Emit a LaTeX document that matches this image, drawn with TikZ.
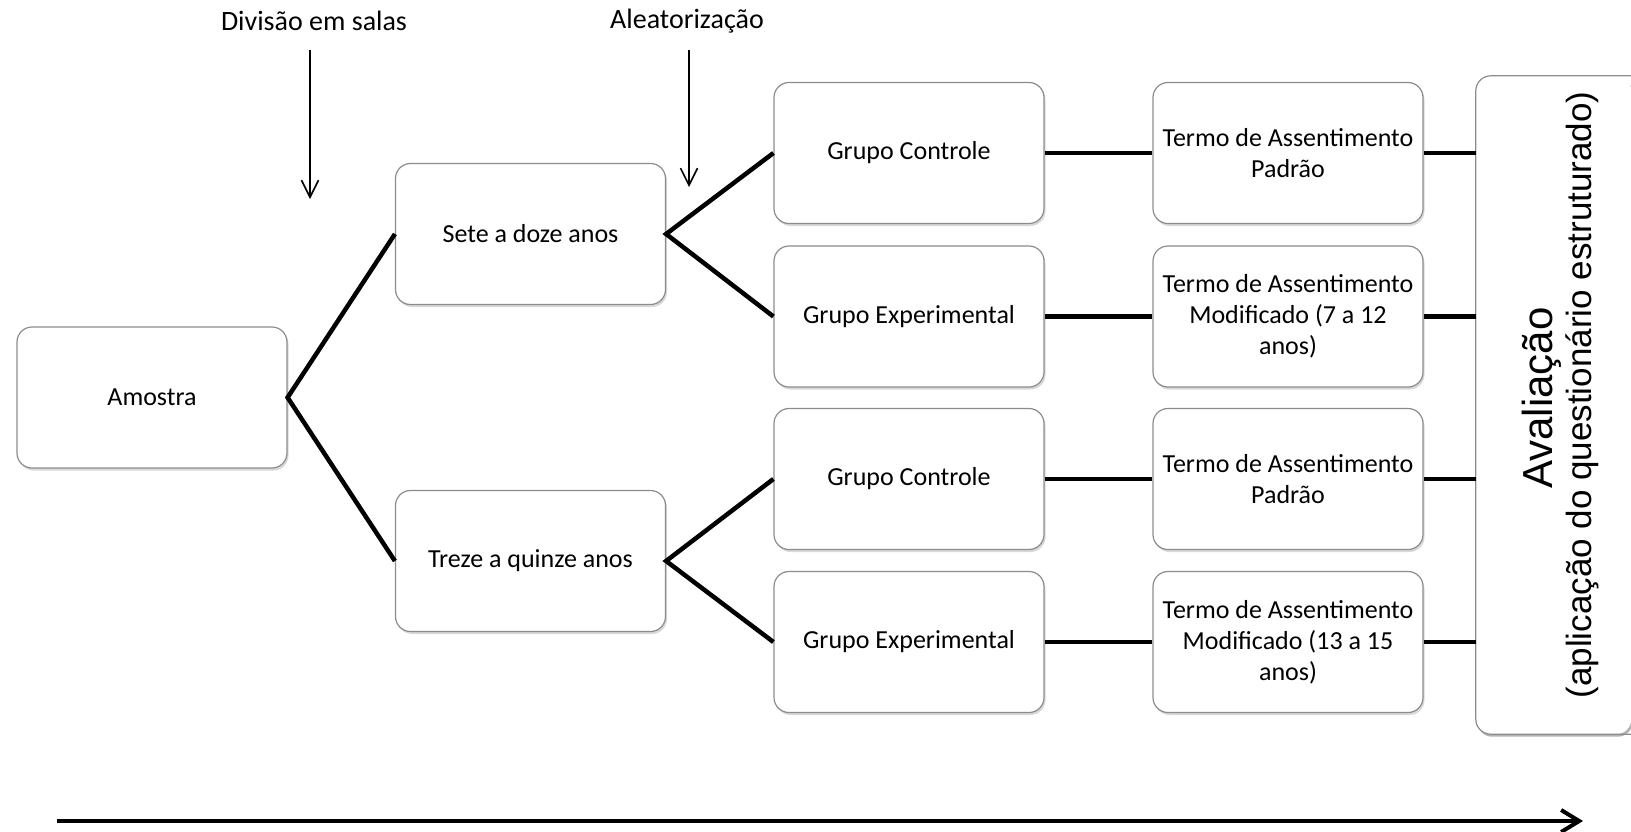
\documentclass[tikz,border=0pt]{standalone}
\usepackage{fontspec}
\setmainfont{Carlito}
\newfontfamily\arialfont{Liberation Sans}
\usetikzlibrary{arrows.meta,shadows}
\begin{document}
\begin{tikzpicture}[x=1pt,y=-1pt,
  box/.style={draw=black!45, line width=1.2pt, rounded corners=15pt, fill=white,
    minimum width=270pt, minimum height=141pt, inner sep=0pt, align=center,
    font=\fontsize{26}{31}\selectfont,
    drop shadow={shadow xshift=1.5pt, shadow yshift=-2.5pt, fill=black!30}},
  link/.style={line width=4.5pt},
  thinarrow/.style={line width=1.6pt, -{Straight Barb[length=17pt,width=17pt]}},
  bigarrow/.style={line width=4pt, -{Straight Barb[length=18pt,width=22pt]}},
  toplabel/.style={font=\fontsize{28}{32}\selectfont, inner sep=0pt},
  border/.style={draw=black!45, line width=1.2pt, rounded corners=15pt}
]
\useasboundingbox (0,0) rectangle (1631,831);

% top labels and arrows
\node[toplabel] (lblA) at (314,21) {Divisão em salas};
\node[toplabel] (lblB) at (687,21) {Aleatorização};
\coordinate (a1s) at (310,50);
\coordinate (a1e) at (310,199);
\coordinate (a2s) at (689,50);
\coordinate (a2e) at (689,187);
\draw[thinarrow] (a1s) -- (a1e);
\draw[thinarrow] (a2s) -- (a2e);

% boxes
\node[box] (amostra) at (152,397.5) {Amostra};
\node[box] (sete) at (530.5,234) {Sete a doze anos};
\node[box] (treze) at (530.5,561) {Treze a quinze anos};
\node[box] (gc1) at (909,153) {Grupo Controle};
\node[box] (ge1) at (909,316.5) {Grupo Experimental};
\node[box] (gc2) at (909,479) {Grupo Controle};
\node[box] (ge2) at (909,642) {Grupo Experimental};
\node[box] (t1) at (1288,153) {Termo de Assentimento\\Padrão};
\node[box] (t2) at (1288,316.5) {Termo de Assentimento\\Modificado (7 a 12\\anos)};
\node[box] (t3) at (1288,479) {Termo de Assentimento\\Padrão};
\node[box] (t4) at (1288,642) {Termo de Assentimento\\Modificado (13 a 15\\anos)};

% evaluation box (runs off the right edge)
\node[minimum width=155pt, minimum height=658pt, inner sep=0pt] (aval) at (1553.5,405) {};
\fill[black!30, rounded corners=15pt]
  ([xshift=1.5pt,yshift=-2.5pt]aval.north east) -- ([xshift=1.5pt,yshift=-2.5pt]aval.north west)
  -- ([xshift=1.5pt,yshift=-2.5pt]aval.south west) -- ([xshift=1.5pt,yshift=-2.5pt]aval.south east) -- cycle;
\fill[white, rounded corners=15pt]
  (aval.north east) -- (aval.north west) -- (aval.south west) -- (aval.south east) -- cycle;
\draw[border] (aval.north east) -- (aval.north west) -- (aval.south west) -- (aval.south east);
\node[rotate=90, anchor=base, inner sep=0pt, font=\arialfont\fontsize{42}{42}\selectfont] (avalA) at (1552,398) {Avaliação};
\node[rotate=90, anchor=base, inner sep=0pt, font=\arialfont\fontsize{35}{35}\selectfont] (avalB) at (1591,395) {(aplicação do questionário estruturado)};

% connectors
\draw[link] (sete.west) -- (amostra.east) -- (treze.west);
\draw[link] (gc1.west) -- (sete.east) -- (ge1.west);
\draw[link] (gc2.west) -- (treze.east) -- (ge2.west);
\draw[link] (gc1.east) -- (t1.west);
\draw[link] (ge1.east) -- (t2.west);
\draw[link] (gc2.east) -- (t3.west);
\draw[link] (ge2.east) -- (t4.west);
\draw[link] (t1.east) -- (t1.east -| aval.west);
\draw[link] (t2.east) -- (t2.east -| aval.west);
\draw[link] (t3.east) -- (t3.east -| aval.west);
\draw[link] (t4.east) -- (t4.east -| aval.west);

% time arrow
\coordinate (ts) at (57,821);
\coordinate (te) at (1583,821);
\draw[bigarrow] (ts) -- (te);
\end{tikzpicture}
\end{document}
